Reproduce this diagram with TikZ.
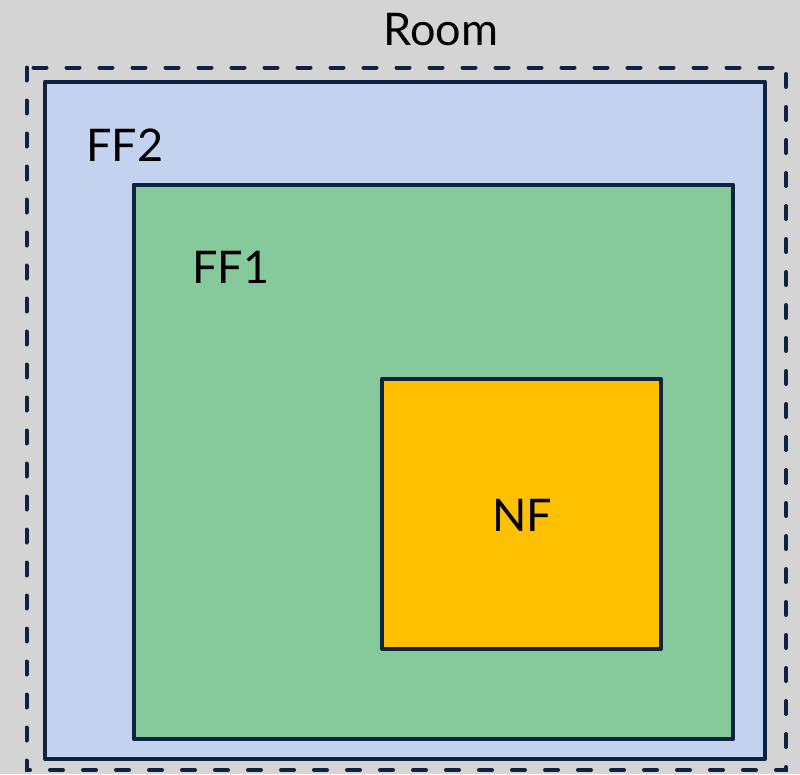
\documentclass[tikz,border=0pt]{standalone}
\usepackage{fontspec}
\setmainfont{Lato}
\usepackage{tikz}
\definecolor{navy}{HTML}{0F2241}
\definecolor{backgray}{HTML}{D4D4D4}
\definecolor{ffblue}{HTML}{C3D2EE}
\definecolor{ffgreen}{HTML}{86C99B}
\definecolor{nforange}{HTML}{FFC000}

\begin{document}
\begin{tikzpicture}
      [x = 1pt, y = -1pt,
      zone/.style = {
         draw = navy,
         line width = 4pt,
         line join = round
      },
      roomline/.style = {
         draw = navy,
         line width = 4pt,
         line cap = round,
         dash pattern = on 13pt off 20pt
      },
      tag/.style = {
         inner sep = 0pt,
         anchor = center,
         font = \fontsize{45}{50}\selectfont
      }]
      \useasboundingbox[fill = backgray] (0, 0) rectangle (800, 774);

      % room outline
      \draw[roomline] (26.5, 67.5) rectangle (786, 770);

      % fields
      \draw[zone, fill = ffblue] (45, 81.5) rectangle (765, 759);
      \draw[zone, fill = ffgreen] (133.5, 184.5) rectangle (733, 739);
      \draw[zone, fill = nforange] (382, 379) rectangle (661, 648.5);

      \node[tag] (room) at (441, 30) {Room};
      \node[tag] (ff2) at (125, 145) {FF2};
      \node[tag] (ff1) at (231, 267) {FF1};
      \node[tag] (nf) at (522.5, 515) {NF};

   \end{tikzpicture}
\end{document}
